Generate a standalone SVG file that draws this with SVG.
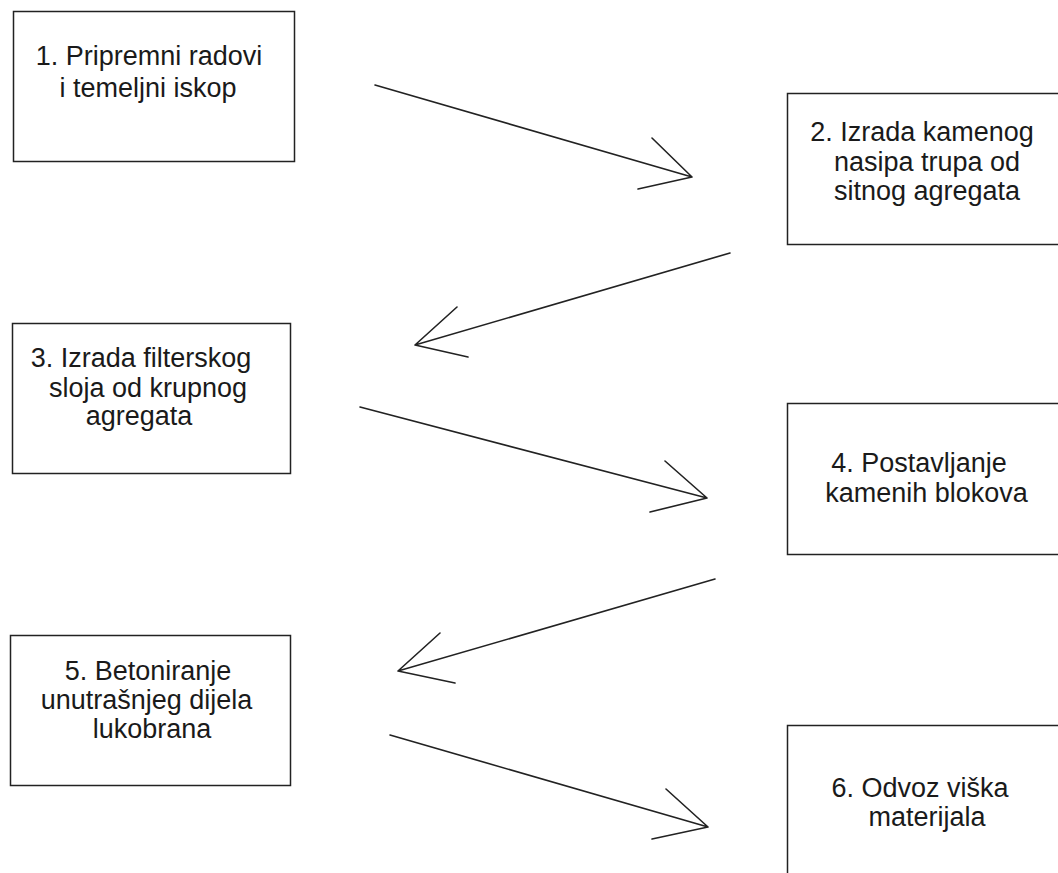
<svg xmlns="http://www.w3.org/2000/svg" width="1058" height="873" viewBox="0 0 1058 873">
<style>
.box{fill:#fff;stroke:#222;stroke-width:1.5}
.t{font-family:"Liberation Sans",Arial,sans-serif;font-size:27px;fill:#1a1a1a;text-anchor:middle}
.c{fill:none;stroke:#222;stroke-width:1.6;stroke-linecap:round;stroke-linejoin:round}
</style>
<rect width="1058" height="873" fill="#fff"/>
<g id="n1"><rect class="box" x="13.5" y="11.5" width="281" height="150"/>
<text class="t" x="149" y="65">1. Pripremni radovi</text><text class="t" x="148" y="97">i temeljni iskop</text></g>
<g id="n2"><rect class="box" x="787.5" y="93.5" width="290" height="151"/>
<text class="t" x="922" y="141">2. Izrada kamenog</text><text class="t" x="927" y="171">nasipa trupa od</text><text class="t" x="927" y="200">sitnog agregata</text></g>
<g id="n3"><rect class="box" x="12.5" y="323.5" width="278" height="150"/>
<text class="t" x="141" y="367">3. Izrada filterskog</text><text class="t" x="148" y="397">sloja od krupnog</text><text class="t" x="139" y="425">agregata</text></g>
<g id="n4"><rect class="box" x="787.5" y="403.5" width="290" height="151"/>
<text class="t" x="919" y="472">4. Postavljanje</text><text class="t" x="926.5" y="502">kamenih blokova</text></g>
<g id="n5"><rect class="box" x="10.5" y="635.5" width="280" height="150"/>
<text class="t" x="148" y="680">5. Betoniranje</text><text class="t" x="146.5" y="709">unutrašnjeg dijela</text><text class="t" x="152" y="738">lukobrana</text></g>
<g id="n6"><rect class="box" x="787.5" y="725.5" width="290" height="170"/>
<text class="t" x="920" y="797">6. Odvoz viška</text><text class="t" x="927" y="826">materijala</text></g>
<g id="connectors">
<path class="c" d="M375 85 L692 177 M652 138 L692 177 L638 189"/>
<path class="c" d="M730 253 L415 345 M457 307 L415 345 L468 357"/>
<path class="c" d="M360 407 L707 498 M665 461 L707 498 L650 512"/>
<path class="c" d="M715 579 L398 671 M440 633 L398 671 L455 683"/>
<path class="c" d="M390 735 L708 827 M666 789 L708 827 L652 839"/>
</g>
</svg>
